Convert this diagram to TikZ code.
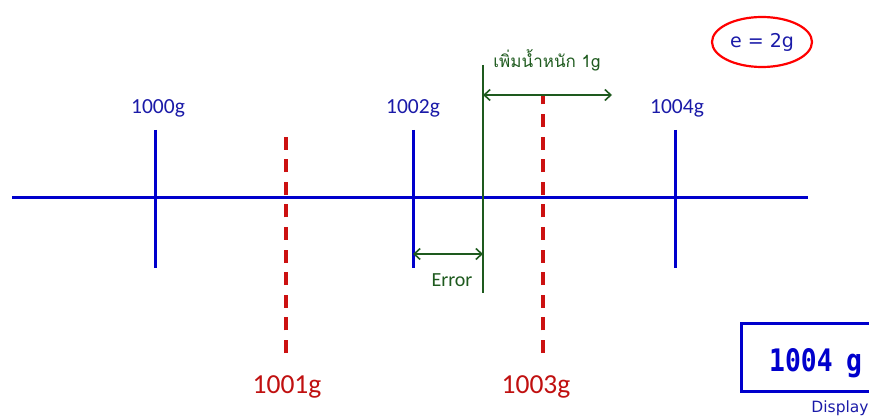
\documentclass[tikz,border=0pt]{standalone}
\usepackage{fontspec}
\setmainfont{Carlito}
\newfontfamily\thaifont[Script=Thai]{Loma}
\newfontfamily\tahfont{DejaVu Sans}
\newfontfamily\segfont[FakeStretch=0.85]{DejaVu Sans Mono}
\usetikzlibrary{arrows.meta,shapes.geometric}
\definecolor{lineblue}{HTML}{0000CC}
\definecolor{txtblue}{HTML}{1A1AA8}
\definecolor{linered}{HTML}{CC1111}
\definecolor{txtred}{HTML}{C01010}
\definecolor{dgreen}{HTML}{1E5A1E}
\tikzset{
  axis/.style={draw=lineblue, line width=3pt},
  tickmark/.style={draw=lineblue, line width=3pt},
  halftick/.style={draw=linered, line width=3.6pt, dash pattern=on 13pt off 9.6pt},
  bluelbl/.style={text=txtblue, font=\fontsize{21.5}{24}\selectfont, inner sep=0pt, anchor=base},
  redlbl/.style={text=txtred, font=\fontsize{27.5}{30}\selectfont, inner sep=0pt, anchor=base},
  greenline/.style={draw=dgreen, line width=1.6pt},
  dimarrow/.style={draw=dgreen, line width=1.6pt, {Straight Barb[length=6pt,width=11pt]}-{Straight Barb[length=6pt,width=11pt]}},
  greenlbl/.style={text=dgreen, inner sep=0pt},
  segtext/.style={text=lineblue, font=\segfont\bfseries\fontsize{31}{33}\selectfont, inner sep=0pt, anchor=base west},
}
\begin{document}
\begin{tikzpicture}[x=1pt,y=-1pt]
\useasboundingbox (0,0) rectangle (869,419);
% red dashed ticks
\coordinate (r1top) at (286,137);
\coordinate (r1bot) at (286,353);
\coordinate (r3top) at (543,95);
\coordinate (r3bot) at (543,353);
\draw[halftick] (r1bot) -- (r1top);
\draw[halftick] (r3bot) -- (r3top);
% main axis
\coordinate (axL) at (12,198);
\coordinate (axR) at (808,198);
\draw[axis] (axL) -- (axR);
% blue ticks
\foreach \n/\x in {a/155,b/413,c/675}{
  \coordinate (t\n top) at (\x,130);
  \coordinate (t\n bot) at (\x,268);
  \draw[tickmark] (t\n top) -- (t\n bot);
}
\node[bluelbl] (l1000) at (158,114) {1000g};
\node[bluelbl] (l1002) at (413,114) {1002g};
\node[bluelbl] (l1004) at (677,114) {1004g};
\node[redlbl] (l1001) at (287,393) {1001g};
\node[redlbl] (l1003) at (536,393) {1003g};
% green reading line
\coordinate (gtop) at (483,65);
\coordinate (gbot) at (483,293);
\draw[greenline] (gtop) -- (gbot);
\coordinate (addL) at (483,95);
\coordinate (addR) at (612,95);
\draw[dimarrow] (addL) -- (addR);
\node[greenlbl, font=\thaifont\fontsize{17}{19}\selectfont] (addlbl) at (547,60) {เพิ่มน้ำหนัก 1g};
\coordinate (errL) at (413,254);
\coordinate (errR) at (483,254);
\draw[dimarrow] (errL) -- (errR);
\node[greenlbl, font=\fontsize{20}{22}\selectfont, anchor=base] (errlbl) at (452,287) {Error};
% e = 2g
\node[draw=red, line width=2.2pt, ellipse, minimum width=100pt, minimum height=50pt, inner sep=0pt] (ebox) at (762,42) {};
\node[text=txtblue, font=\tahfont\fontsize{19}{21}\selectfont, inner sep=0pt] (elbl) at (762,42) {e = 2g};
% display
\coordinate (dTL) at (741,323);
\coordinate (dBR) at (874,391);
\draw[draw=lineblue, line width=3pt] (dTL) rectangle (dBR);
\node[segtext] (dnum) at (769,371) {1004};
\node[segtext] (dunit) at (846,371) {g};
\node[text=txtblue, font=\tahfont\fontsize{15.5}{17}\selectfont, inner sep=0pt] (dlbl) at (840,408) {Display};
\end{tikzpicture}
\end{document}
